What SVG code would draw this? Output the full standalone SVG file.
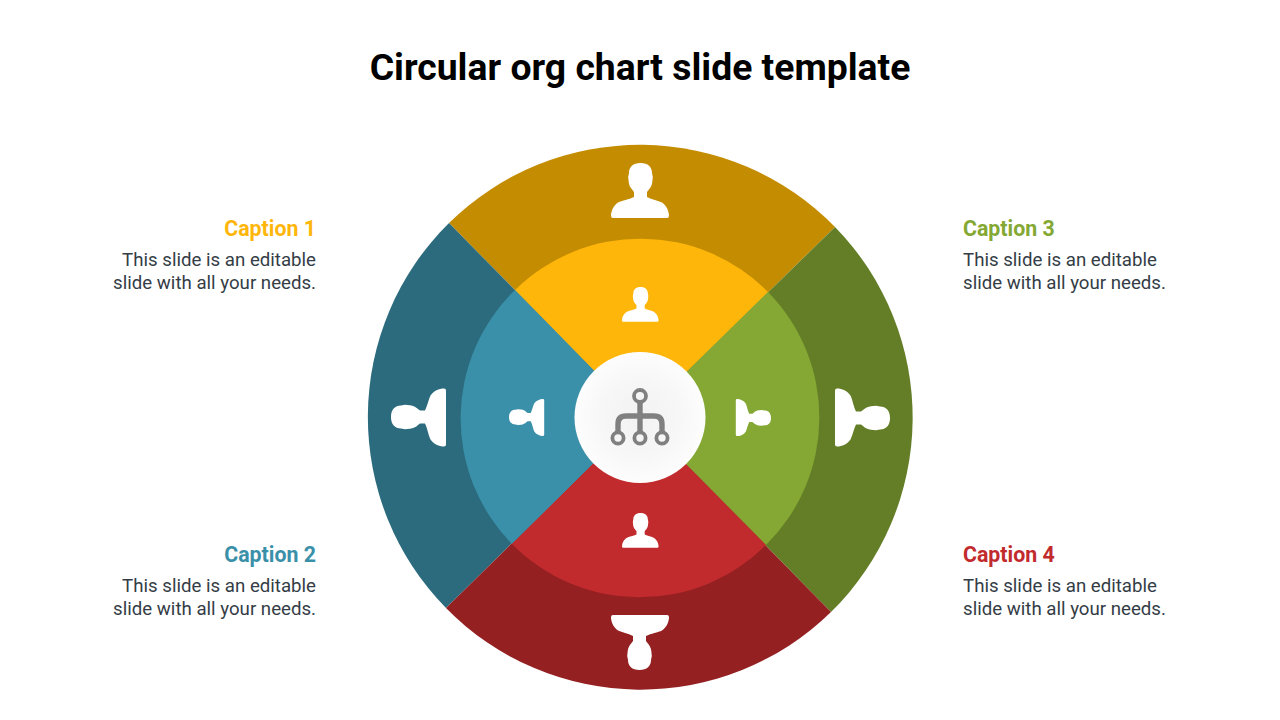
<svg xmlns="http://www.w3.org/2000/svg" width="1280" height="720" viewBox="0 0 1280 720">
<style>
text{font-family:Roboto,"Liberation Sans",sans-serif}
.title{font-size:37.33px;font-weight:700;fill:#000;text-anchor:middle}
.cap{font-size:21.33px;font-weight:700}
.body{font-size:18.67px;fill:#343d46}
.end{text-anchor:end}
.p{fill:#fff}
.ring{fill:none;stroke:#808080;stroke-width:3.8}
.bar{fill:none;stroke:#808080;stroke-width:5.4}
</style>
<defs>
<radialGradient id="hub"><stop offset="0" stop-color="#f2f2f2"/><stop offset="0.6" stop-color="#f7f7f7"/><stop offset="1" stop-color="#fdfdfd"/></radialGradient>
<path id="person" d="M29.5,0C37,0 41,4 41,10L41.8,14L41.3,19C41,22 39.5,25 37.5,27L36,29L36,34C41,36.5 47,37.5 51,39.5C55.5,42.5 58,48 58,53Q58,55 56,55L2,55Q0,55 0,53C0,48 2.5,42.5 7,39.5C11,37.5 18,36.5 23,34L23,29L21.5,27C19.5,25 18,22 17.7,19L17.2,14L18,10C18,4 22,0 29.5,0Z"/>
</defs>
<text class="title" x="640" y="80">Circular org chart slide template</text>
<g id="segment-top-outer"><path fill="#c48c00" d="M449,223A272.5,272.5 0 0 1 835,227L640,417.5Z"/></g>
<g id="segment-left-outer"><path fill="#2b6b7d" d="M449,223A272.5,272.5 0 0 0 446,608L640,417.5Z"/></g>
<g id="segment-right-outer"><path fill="#637e26" d="M835,227A272.5,272.5 0 0 1 831,612L640,417.5Z"/></g>
<g id="segment-bottom-outer"><path fill="#942022" d="M446,608A272.5,272.5 0 0 0 831,612L640,417.5Z"/></g>
<g id="segment-top-inner"><path fill="#ffb60a" d="M515,290A179,179 0 0 1 768,292L640,417.5Z"/></g>
<g id="segment-left-inner"><path fill="#3a90a9" d="M515,290A179,179 0 0 0 512,544L640,417.5Z"/></g>
<g id="segment-right-inner"><path fill="#84a833" d="M768,292A179,179 0 0 1 766,545L640,417.5Z"/></g>
<g id="segment-bottom-inner"><path fill="#c22b2d" d="M512,544A179,179 0 0 0 766,545L640,417.5Z"/></g>
<g id="people">
<use href="#person" class="p" transform="translate(611,163)"/>
<use href="#person" class="p" transform="translate(622,287) scale(.63)"/>
<use href="#person" class="p" transform="translate(391,446.5) rotate(-90)"/>
<use href="#person" class="p" transform="translate(509,436) rotate(-90) scale(.64)"/>
<use href="#person" class="p" transform="translate(890,388.5) rotate(90)"/>
<use href="#person" class="p" transform="translate(771,399) rotate(90) scale(.64)"/>
<use href="#person" class="p" transform="translate(669,670) rotate(180)"/>
<use href="#person" class="p" transform="translate(622,513) scale(.63)"/>
</g>
<g id="hub-node">
<circle cx="640" cy="417.5" r="65.5" fill="url(#hub)"/>
<path class="bar" d="M640,402V432M618,432V424Q618,416 626,416H654Q662,416 662,424V432"/>
<circle class="ring" cx="640" cy="396" r="6"/>
<circle class="ring" cx="618" cy="438" r="5.6"/>
<circle class="ring" cx="640" cy="438" r="5.6"/>
<circle class="ring" cx="662" cy="438" r="5.6"/>
</g>
<g id="caption-1"><text class="cap end" x="316" y="235.5" fill="#ffb60a">Caption 1</text><text class="body end" x="316" y="266">This slide is an editable</text><text class="body end" x="316" y="289">slide with all your needs.</text></g>
<g id="caption-2"><text class="cap end" x="316" y="561.5" fill="#3a90a9">Caption 2</text><text class="body end" x="316" y="592">This slide is an editable</text><text class="body end" x="316" y="615">slide with all your needs.</text></g>
<g id="caption-3"><text class="cap" x="963" y="235.5" fill="#84a833">Caption 3</text><text class="body" x="963" y="266">This slide is an editable</text><text class="body" x="963" y="289">slide with all your needs.</text></g>
<g id="caption-4"><text class="cap" x="963" y="561.5" fill="#c22b2d">Caption 4</text><text class="body" x="963" y="592">This slide is an editable</text><text class="body" x="963" y="615">slide with all your needs.</text></g>
</svg>
